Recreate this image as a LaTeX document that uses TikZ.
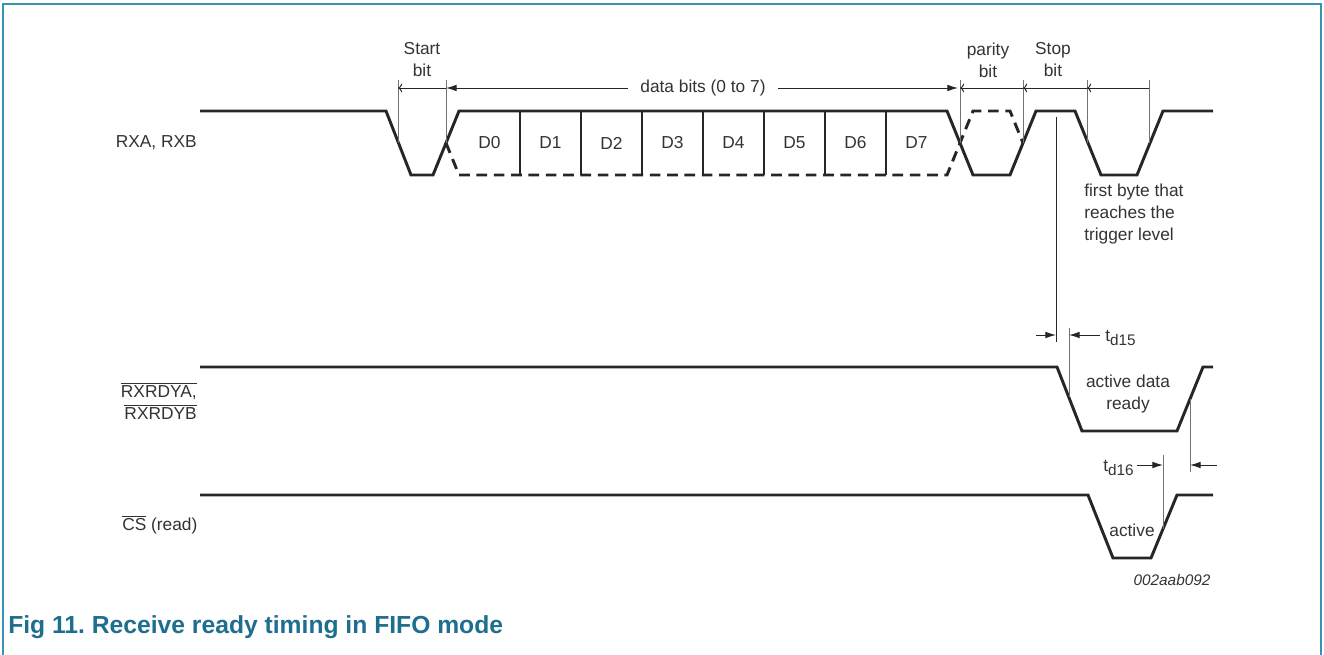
\documentclass[tikz,border=0pt]{standalone}
\usepackage{fontspec}
\setmainfont{Liberation Sans}
\usetikzlibrary{arrows.meta}

\definecolor{framecol}{HTML}{3A93B3}
\definecolor{capcol}{HTML}{1E6F8E}
\definecolor{txtcol}{HTML}{333333}

\tikzset{
    wave/.style={line width=2.2pt, black!85, line join=miter},
    dwave/.style={wave, dash pattern=on 8pt off 5pt},
    extline/.style={line width=0.7pt, black!55},
    dimarrow/.style={line width=0.7pt, black!85, -{Latex[length=8pt,width=5pt]}},
    lbl/.style={text=txtcol, font=\fontsize{13}{16.5}\selectfont, inner sep=0pt},
}

\begin{document}
\begin{tikzpicture}[x=0.75pt, y=-0.75pt]
    \useasboundingbox (0,0) rectangle (1324,655);
    \draw[framecol, line width=2pt] (3,655) -- (3,4) -- (1321,4) -- (1321,655);

    % RXA, RXB
    \draw[wave] (200,111) -- (386,111) -- (411,175) -- (433,175) -- (459,111) -- (947,111)
        -- (973,175) -- (1010,175) -- (1036,111) -- (1075,111) -- (1101,175) -- (1137,175)
        -- (1163,111) -- (1213,111);
    \draw[dwave] (446,143) -- (459,175) -- (947,175) -- (973,111) -- (1010,111) -- (1023,143);
    \foreach \x in {520,581,...,886} {
        \draw[wave] (\x,111) -- (\x,175);
    }
    \foreach \i in {0,...,7} {
        \node[lbl] (d\i) at ({489.5+61*\i},143) {D\i};
    }

    % bit boundaries
    \foreach \n/\x in {sa/398, sb/446, pa/960, pb/1023, pc/1087, pd/1149} {
        \coordinate (\n) at (\x,88);
        \draw[extline] (\x,80) -- (\x,143);
    }
    \draw[dimarrow, <-] (sa) -- (sb);
    \draw[dimarrow, <-] (pa) -- (pb);
    \draw[dimarrow, <-] (pb) -- (pc);
    \draw[dimarrow, <-] (pc) -- (pd);
    \node[lbl] (databits) at (703,88) {data bits (0 to 7)};
    \draw[dimarrow] (databits.west) ++(-12,0) -- (sb);
    \draw[dimarrow] (databits.east) ++(12,0) -- ([xshift=-1.5]pa);

    \node[lbl, align=center] (startlbl) at (422,60) {Start\\bit};
    \node[lbl, align=center] (paritylbl) at (988,60) {parity\\bit};
    \node[lbl, align=center] (stoplbl) at (1053,60) {Stop\\bit};
    \node[lbl, align=left, anchor=north west] (firstbyte) at (1084,184)
        {first byte that\\reaches the\\trigger level};

    % RXRDYA, RXRDYB
    \draw[wave] (200,367) -- (1057,367) -- (1082,431) -- (1177,431) -- (1203,367) -- (1213,367);
    \node[lbl, align=center] (rdyactive) at (1128,394) {active data\\ready};

    % CS (read)
    \draw[wave] (200,495) -- (1088,495) -- (1113,558) -- (1151,558) -- (1177,495) -- (1213,495);
    \node[lbl] (csactive) at (1132,530) {active};

    % td15
    \coordinate (tfa) at (1056,335);
    \coordinate (tfb) at (1069,335);
    \draw[line width=0.7pt, black!85] (1056,117) -- (1056,342);
    \draw[extline] (1069,328) -- (1069,397);
    \draw[dimarrow] (1036,335) -- (tfa);
    \draw[dimarrow] (1100,335) -- (tfb);
    \node[lbl, anchor=west] (tdfifteen) at (1105,338)
        {t\raisebox{-0.45ex}{\fontsize{11.5}{12}\selectfont d15}};

    % td16
    \coordinate (tsa) at (1163,465);
    \coordinate (tsb) at (1190,465);
    \draw[extline] (1163,455) -- (1163,529);
    \draw[extline] (1190,399) -- (1190,472);
    \draw[dimarrow] (1137,465) -- (tsa);
    \draw[dimarrow] (1217,465) -- (tsb);
    \node[lbl, anchor=east] (tdsixteen) at (1134,468)
        {t\raisebox{-0.45ex}{\fontsize{11.5}{12}\selectfont d16}};

    % signal names
    \node[lbl, anchor=east] (rxalbl) at (197,143) {RXA, RXB};
    \node[lbl, anchor=east, align=right] (rdylbl) at (197,401)
        {$\overline{\mbox{RXRDYA,}}$\\$\overline{\mbox{RXRDYB}}$};
    \node[lbl, anchor=west] (cslbl) at (122,525) {$\overline{\mbox{CS}}$ (read)};

    \node[lbl, font=\fontsize{11.5}{13}\itshape] (figid) at (1172,580) {002aab092};
    \node[anchor=west, inner sep=0pt, text=capcol, font=\fontsize{18.5}{20}\bfseries] (caption)
        at (8,627) {Fig 11.\ Receive ready timing in FIFO mode};
\end{tikzpicture}
\end{document}
